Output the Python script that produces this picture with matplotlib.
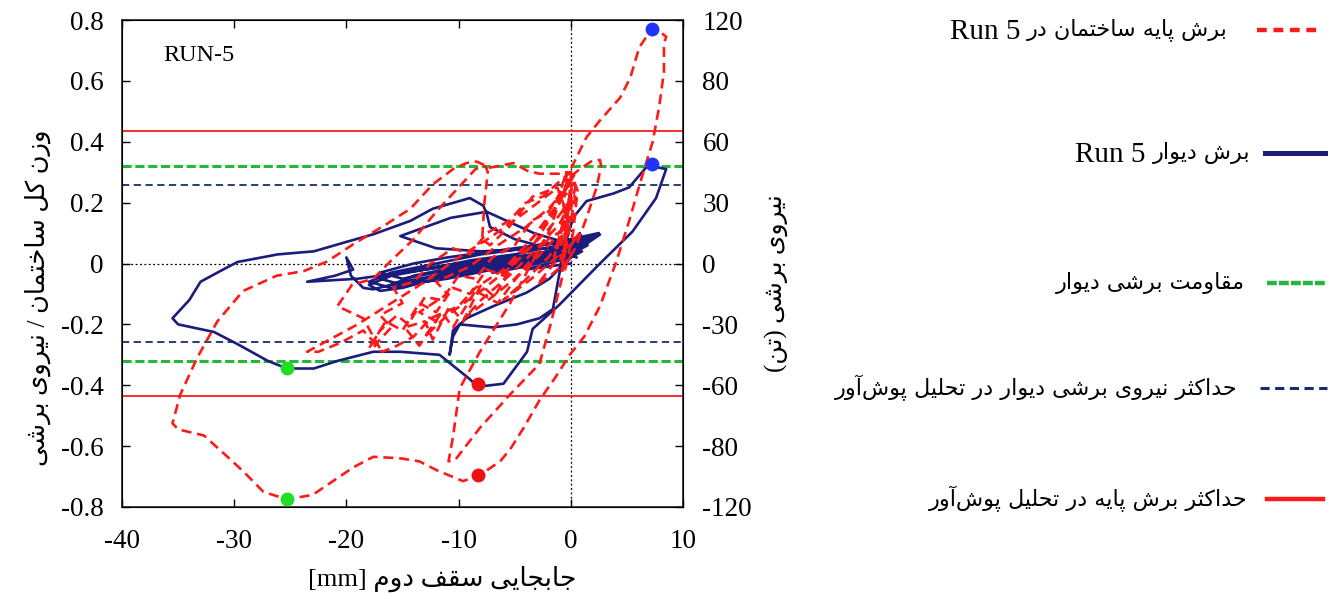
import matplotlib
matplotlib.use("Agg")
import matplotlib.pyplot as plt
from matplotlib.lines import Line2D

# ---------------- data ----------------
red_path = [
    (0.0, 0.02), (-1.5, -0.03), (-3.0, -0.07), (-1.5, 0.00), (0.0, 0.06), (0.8, 0.10), (-1.0, 0.03),
    (-3.5, -0.05), (-6.0, -0.12), (-4.5, -0.07), (-2.0, 0.02), (-0.5, 0.10), (0.5, 0.17), (-1.5, 0.08),
    (-4.0, -0.02), (-7.0, -0.11), (-9.5, -0.18), (-8.0, -0.12), (-5.5, -0.04), (-3.0, 0.05), (-1.0, 0.13),
    (0.2, 0.22), (-1.8, 0.12), (-5.0, 0.00), (-8.0, -0.09), (-11.0, -0.17), (-13.0, -0.24), (-12.0, -0.19),
    (-13.5, -0.16), (-11.0, -0.10), (-12.0, -0.06), (-9.0, -0.01), (-6.5, 0.06), (-4.0, 0.12), (-2.0, 0.18),
    (-0.5, 0.24), (0.3, 0.29),
    (-1.5, 0.18), (-3.5, 0.08), (-6.0, -0.02), (-8.5, -0.08), (-10.0, -0.14), (-12.5, -0.18), (-14.0, -0.24),
    (-15.5, -0.27), (-16.8, -0.29), (-17.5, -0.27), (-16.0, -0.21), (-17.0, -0.17), (-15.0, -0.13),
    (-15.8, -0.08), (-14.0, -0.06), (-12.5, 0.00), (-10.5, 0.05), (-9.0, 0.03), (-7.5, 0.10), (-5.5, 0.14),
    (-4.0, 0.20), (-2.5, 0.22), (-1.0, 0.27), (0.0, 0.30),
    (-1.0, 0.20), (-2.5, 0.12), (-4.5, 0.04), (-6.0, -0.04), (-7.5, -0.02), (-9.0, -0.10), (-10.5, -0.08),
    (-12.0, -0.16), (-13.5, -0.13), (-15.0, -0.22), (-16.5, -0.19), (-18.0, -0.28), (-17.0, -0.22),
    (-15.5, -0.17), (-14.5, -0.20), (-13.0, -0.11), (-11.5, -0.12), (-10.0, -0.04), (-8.5, -0.05),
    (-7.0, 0.02), (-5.0, 0.06), (-3.5, 0.14), (-2.0, 0.17), (-0.8, 0.24), (0.5, 0.27),
    (-0.3, 0.12), (-2.0, 0.08), (-4.5, -0.03), (-6.5, -0.13), (-8.5, -0.09), (-10.5, -0.21), (-11.5, -0.16),
    (-13.5, -0.27), (-14.8, -0.21), (-13.0, -0.19), (-12.3, -0.25), (-10.8, -0.14), (-9.6, -0.19),
    (-8.0, -0.07), (-6.8, -0.11), (-5.0, 0.01), (-3.2, 0.07), (-1.6, 0.16), (-0.4, 0.30), (-0.9, 0.05),
    (0.1, 0.26), (-0.6, 0.02), (0.4, 0.22),
    (-1.5, 0.24), (-4.0, 0.17), (-7.0, 0.09), (-10.0, 0.02), (-13.0, -0.06), (-16.0, -0.13), (-19.0, -0.20),
    (-21.5, -0.25), (-23.5, -0.29), (-22.5, -0.29), (-20.5, -0.26), (-18.5, -0.22), (-17.0, -0.28),
    (-18.5, -0.18), (-20.8, -0.14), (-19.5, -0.07), (-17.6, -0.05), (-16.0, 0.01), (-14.0, 0.08),
    (-12.0, 0.17), (-10.0, 0.25), (-8.5, 0.31), (-7.6, 0.32), (-7.4, 0.30), (-7.7, 0.20), (-7.9, 0.08),
    (-7.2, 0.06), (-5.5, 0.12), (-3.4, 0.22), (-1.2, 0.25), (-0.3, 0.16),
    (-0.8, -0.05), (-1.8, -0.20), (-2.8, -0.33), (-5.4, -0.43), (-8.1, -0.54), (-10.3, -0.645),
    (-10.9, -0.65), (-10.5, -0.57), (-9.9, -0.41), (-8.1, -0.29), (-5.4, -0.13), (-3.5, 0.00), (-2.0, 0.10),
    (-1.0, 0.20), (-0.2, 0.28), (0.8, 0.31), (2.0, 0.34), (2.6, 0.34), (2.7, 0.32), (2.3, 0.25), (1.4, 0.15),
    (0.4, 0.05), (-0.8, -0.02), (-0.5, 0.08),
    (-0.2, 0.18), (0.06, 0.315), (1.4, 0.415), (2.6, 0.47), (4.4, 0.545), (5.3, 0.61), (6.1, 0.71),
    (7.2, 0.77), (8.0, 0.76), (8.5, 0.745), (8.3, 0.72), (8.3, 0.63), (7.9, 0.52), (7.3, 0.40), (6.3, 0.28),
    (5.2, 0.14), (4.0, 0.00), (2.6, -0.14), (1.2, -0.24), (-0.1, -0.30), (-1.3, -0.37), (-2.8, -0.45),
    (-4.2, -0.54), (-5.4, -0.61), (-6.3, -0.65), (-8.1, -0.695), (-9.6, -0.715), (-11.9, -0.68),
    (-13.5, -0.65), (-15.2, -0.64), (-17.6, -0.635), (-19.4, -0.67), (-21.0, -0.71), (-23.0, -0.76),
    (-25.3, -0.775), (-27.4, -0.75), (-29.0, -0.69), (-30.3, -0.645), (-32.7, -0.565), (-35.0, -0.545),
    (-35.5, -0.525), (-34.8, -0.43), (-33.3, -0.31), (-31.5, -0.19), (-29.2, -0.09), (-26.2, -0.04),
    (-23.8, -0.025), (-21.7, 0.007), (-19.4, 0.063), (-16.4, 0.13), (-14.3, 0.18), (-12.3, 0.26),
    (-10.5, 0.31), (-9.3, 0.33), (-8.4, 0.335), (-7.2, 0.315), (-5.1, 0.33), (-3.9, 0.305), (-2.8, 0.295),
    (-1.0, 0.295), (0.0, 0.30), (0.6, 0.24), (0.2, 0.10), (-0.5, -0.02), (-1.2, 0.05), (-0.6, 0.14),
    (-0.1, 0.22), (-0.8, 0.12), (-1.5, 0.02),
]

navy_path = [
    (0.0, 0.00), (-2.0, -0.01), (-4.0, -0.02), (-2.0, 0.00), (0.0, 0.02), (1.0, 0.04), (-1.0, 0.02),
    (-4.0, -0.01), (-7.0, -0.03), (-5.0, -0.01), (-2.0, 0.01), (0.0, 0.03), (1.5, 0.06), (-1.0, 0.03),
    (-5.0, 0.00), (-9.0, -0.02), (-12.0, -0.05), (-10.0, -0.03), (-7.0, -0.01), (-4.0, 0.01), (-1.0, 0.04),
    (1.0, 0.07), (-2.0, 0.04), (-6.0, 0.01), (-10.0, -0.01), (-14.0, -0.04), (-16.0, -0.07), (-14.0, -0.06),
    (-11.0, -0.03), (-8.0, -0.01), (-5.0, 0.02), (-2.0, 0.04), (0.0, 0.06), (2.0, 0.09), (-1.0, 0.06),
    (-5.0, 0.03), (-9.0, 0.01), (-13.0, -0.02), (-16.0, -0.04), (-18.0, -0.07), (-17.0, -0.09),
    (-15.0, -0.08), (-12.0, -0.05), (-9.0, -0.03), (-6.0, 0.00), (-3.0, 0.02), (0.0, 0.05),
    (-2.0, 0.03), (-6.0, 0.02), (-10.0, 0.00), (-14.0, -0.02), (-17.0, -0.05), (-15.0, -0.07),
    (-11.0, -0.05), (-7.0, -0.02), (-3.0, 0.01), (0.0, 0.04), (1.5, 0.08), (-1.0, 0.07), (-4.0, 0.05),
    (-8.0, 0.03), (-12.0, 0.00), (-16.0, -0.03), (-18.0, -0.06), (-16.0, -0.08), (-13.0, -0.06),
    (-10.0, -0.04), (-6.0, -0.01), (-2.0, 0.02), (1.0, 0.06), (2.5, 0.10), (0.0, 0.08), (-3.0, 0.06),
    (-7.0, 0.04), (-11.0, 0.02), (-14.0, 0.00), (-17.0, -0.03), (-15.0, -0.05), (-12.0, -0.03),
    (-9.0, -0.01), (-5.0, 0.01), (-1.0, 0.03), (0.0, 0.05),
    (-1.0, -0.03), (-1.6, -0.15), (-2.8, -0.18), (-4.8, -0.20), (-7.0, -0.21), (-9.9, -0.20),
    (-10.5, -0.24), (-10.8, -0.30), (-10.5, -0.22), (-9.3, -0.18), (-6.9, -0.14), (-3.9, -0.095),
    (-1.9, -0.05), (-0.4, 0.007), (0.8, 0.10), (1.1, 0.07), (2.6, 0.095), (0.8, 0.05), (-1.0, -0.02),
    (-0.6, 0.05), (0.2, 0.15),
    (1.4, 0.205), (3.8, 0.23), (5.2, 0.25), (6.7, 0.315), (7.2, 0.32), (8.5, 0.31), (7.6, 0.215),
    (5.5, 0.105), (2.6, 0.00), (-1.0, -0.135), (-3.4, -0.215), (-3.9, -0.29), (-6.0, -0.395),
    (-8.3, -0.405), (-9.0, -0.38), (-11.7, -0.30), (-15.2, -0.29), (-17.6, -0.29), (-20.8, -0.32),
    (-22.9, -0.345), (-25.3, -0.345), (-27.0, -0.32), (-29.7, -0.265), (-31.8, -0.225), (-35.0, -0.20),
    (-35.5, -0.18), (-34.0, -0.12), (-33.0, -0.06), (-31.0, -0.02), (-29.7, 0.005), (-26.1, 0.03),
    (-22.9, 0.04), (-19.9, 0.072), (-17.6, 0.096), (-14.3, 0.14), (-12.3, 0.18), (-9.0, 0.215),
    (-7.8, 0.19), (-7.5, 0.165), (-7.2, 0.12),
    (-5.0, 0.08), (-3.0, 0.06), (-0.6, 0.07), (-3.3, 0.10), (-7.5, 0.17), (-10.7, 0.15), (-15.2, 0.09),
    (-12.0, 0.05), (-8.0, 0.04), (-5.0, 0.045), (-2.0, 0.05), (0.5, 0.06), (-3.0, 0.03), (-7.0, 0.01),
    (-11.0, -0.01), (-15.0, -0.03), (-19.0, -0.05), (-23.5, -0.06), (-21.0, -0.04), (-19.4, -0.02),
    (-20.0, 0.02), (-19.6, -0.04), (-18.5, -0.08), (-17.6, -0.085), (-15.0, -0.06), (-12.0, -0.04),
    (-9.0, -0.02), (-6.0, 0.0), (-3.0, 0.02), (-1.0, 0.04), (0.5, 0.02),
]

base_shear_pushover = 0.435     # red solid, +/-
wall_strength = 0.32            # green dashed, +/-
wall_shear_pushover = 0.258     # navy dashed, +/-

blue_pts = [(7.2, 0.769), (7.2, 0.327)]
green_pts = [(-25.3, -0.343), (-25.3, -0.774)]
red_pts = [(-8.3, -0.395), (-8.3, -0.694)]

x_ticks = [-40, -30, -20, -10, 0, 10]
y_ticks = [0.8, 0.6, 0.4, 0.2, 0.0, -0.2, -0.4, -0.6, -0.8]
y_tick_labels = ["0.8", "0.6", "0.4", "0.2", "0", "-0.2", "-0.4", "-0.6", "-0.8"]
right_tick_labels = ["120", "80", "60", "30", "0", "-30", "-60", "-80", "-120"]

legend_labels = [
    "برش پایه ساختمان در Run 5",
    "برش دیوار Run 5",
    "مقاومت برشی دیوار",
    "حداکثر نیروی برشی دیوار در تحلیل پوش\u200cآور",
    "حداکثر برش پایه در تحلیل پوش\u200cآور",
]
xlabel_text = "جابجایی سقف دوم [mm]"
ylabel_left = "وزن کل ساختمان / نیروی برشی"
ylabel_right = "نیروی برشی (تن)"
run_label = "RUN-5"

# ---------------- minimal Persian shaping ----------------
FORMS = {
    'ا': ('\uFE8D', '\uFE8E', None, None), 'آ': ('\uFE81', '\uFE82', None, None),
    'ب': ('\uFE8F', '\uFE90', '\uFE91', '\uFE92'), 'پ': ('\uFB56', '\uFB57', '\uFB58', '\uFB59'),
    'ت': ('\uFE95', '\uFE96', '\uFE97', '\uFE98'), 'ث': ('\uFE99', '\uFE9A', '\uFE9B', '\uFE9C'),
    'ج': ('\uFE9D', '\uFE9E', '\uFE9F', '\uFEA0'),
    'ح': ('\uFEA1', '\uFEA2', '\uFEA3', '\uFEA4'), 'خ': ('\uFEA5', '\uFEA6', '\uFEA7', '\uFEA8'),
    'د': ('\uFEA9', '\uFEAA', None, None), 'ر': ('\uFEAD', '\uFEAE', None, None),
    'ز': ('\uFEAF', '\uFEB0', None, None), 'س': ('\uFEB1', '\uFEB2', '\uFEB3', '\uFEB4'),
    'ش': ('\uFEB5', '\uFEB6', '\uFEB7', '\uFEB8'), 'ف': ('\uFED1', '\uFED2', '\uFED3', '\uFED4'),
    'ق': ('\uFED5', '\uFED6', '\uFED7', '\uFED8'), 'ک': ('\uFB8E', '\uFB8F', '\uFB90', '\uFB91'),
    'ل': ('\uFEDD', '\uFEDE', '\uFEDF', '\uFEE0'), 'م': ('\uFEE1', '\uFEE2', '\uFEE3', '\uFEE4'),
    'ن': ('\uFEE5', '\uFEE6', '\uFEE7', '\uFEE8'), 'ه': ('\uFEE9', '\uFEEA', '\uFEEB', '\uFEEC'),
    'و': ('\uFEED', '\uFEEE', None, None), 'ی': ('\uFBFC', '\uFBFD', '\uFBFE', '\uFBFF'),
}
MIRROR = {'(': ')', ')': '(', '[': ']', ']': '['}


def shape_word(w):
    out = []
    for i, c in enumerate(w):
        if c not in FORMS:
            if c != '\u200c':
                out.append(c)
            continue
        prev = w[i - 1] if i > 0 else None
        nxt = w[i + 1] if i + 1 < len(w) else None
        jp = prev in FORMS and FORMS[prev][2] is not None
        jn = FORMS[c][2] is not None and nxt in FORMS
        f = FORMS[c]
        out.append(f[3] if (jp and jn) else f[1] if jp else f[2] if jn else f[0])
    return out


def is_rtl(t):
    return any('\u0600' <= c <= '\u06FF' for c in t) or not any(c.isalnum() for c in t)


def runs_of(s):
    """Logical-order runs: list of (kind, visual_text); first run is rightmost."""
    runs = []
    for t in s.split(' '):
        if is_rtl(t):
            g = ''.join(MIRROR.get(c, c) for c in shape_word(t)[::-1])
            if runs and runs[-1][0] == 'r':
                runs[-1] = ('r', g + ' ' + runs[-1][1])
            else:
                runs.append(('r', g))
        else:
            if runs and runs[-1][0] == 'l':
                runs[-1] = ('l', runs[-1][1] + ' ' + t)
            else:
                runs.append(('l', t))
    return runs


def visual(s):
    return ' '.join(r[1] for r in runs_of(s)[::-1])


FAM = ['Liberation Serif', 'DejaVu Sans']
plt.rcParams['font.family'] = FAM

W, H = 1336, 599
fig = plt.figure(figsize=(W / 100, H / 100), dpi=100)
ax = fig.add_axes([122 / W, 1 - 507 / H, (683 - 122) / W, (507 - 20) / H])

red_c = '#ff1a1a'
navy_c = '#1c1c7c'
navyd_c = '#12306b'
green_c = '#22b83a'

ax.axhline(base_shear_pushover, color=red_c, lw=1.3, zorder=2)
ax.axhline(-base_shear_pushover, color=red_c, lw=1.3, zorder=2)
ax.axhline(wall_strength, color=green_c, lw=2.2, dashes=(3, 1.2), zorder=2)
ax.axhline(-wall_strength, color=green_c, lw=2.2, dashes=(3, 1.2), zorder=2)
ax.axhline(wall_shear_pushover, color=navyd_c, lw=1.3, dashes=(4, 2.5), zorder=2)
ax.axhline(-wall_shear_pushover, color=navyd_c, lw=1.3, dashes=(4, 2.5), zorder=2)
ax.axhline(0, color='black', lw=0.9, dashes=(1.5, 2), zorder=1)
ax.axvline(0, color='black', lw=0.9, dashes=(1.5, 2), zorder=1)

nx, ny = zip(*navy_path)
ax.plot(nx, ny, color=navy_c, lw=1.9, zorder=3, solid_joinstyle='round')
rx, ry = zip(*red_path)
ax.plot(rx, ry, color=red_c, lw=1.9, dashes=(3.8, 2.2), zorder=4)

for pts, col in ((blue_pts, '#2233ff'), (green_pts, '#22dd22'), (red_pts, '#ee1111')):
    px, py = zip(*pts)
    ax.plot(px, py, 'o', color=col, ms=10, zorder=6, mec='none')

ax.text(-36.3, 0.685, run_label, fontsize=17.5, family=FAM, va='center', ha='left')

ax.set_xlim(-40, 10)
ax.set_ylim(-0.8, 0.8)
ax.set_xticks(x_ticks)
ax.set_xticklabels([str(v) for v in x_ticks])
ax.set_yticks(y_ticks)
ax.set_yticklabels(y_tick_labels)
ax.tick_params(axis='y', direction='in', length=6, width=1, labelsize=19.5, right=False, pad=13)
ax.tick_params(axis='x', direction='in', length=6, width=1, labelsize=19.5, top=True, pad=16)
for sp in ax.spines.values():
    sp.set_linewidth(1.2)
    sp.set_color('#222222')

ax2 = ax.twinx()
ax2.set_ylim(-0.8, 0.8)
ax2.set_yticks(y_ticks)
ax2.set_yticklabels(right_tick_labels)
ax2.tick_params(direction='in', length=6, width=1, labelsize=19.5, pad=14)

fig.text(442 / W, 1 - 579 / H, visual(xlabel_text), fontsize=19, ha='center', va='center', family=FAM)
fig.text(38 / W, 1 - 298 / H, visual(ylabel_left), fontsize=18.5, rotation=90, ha='center', va='center', family=FAM)
fig.text(776 / W, 1 - 283 / H, visual(ylabel_right), fontsize=18, rotation=90, ha='center', va='center', family=FAM)

# ---------------- legend (manual) ----------------
leg_y = [30, 153, 283, 388, 499]
leg_text_right = [1228, 1250, 1245, 1237, 1247]
leg_line = [(1257, 1322), (1265, 1325), (1267, 1325), (1260, 1327), (1267, 1323)]
leg_styles = [
    dict(color=red_c, lw=3.2, dashes=(2.2, 1.5)),
    dict(color=navy_c, lw=3.6),
    dict(color=green_c, lw=3.2, dashes=(2.2, 0.5)),
    dict(color=navyd_c, lw=2.2, dashes=(3, 1.8)),
    dict(color=red_c, lw=3.2),
]
renderer = fig.canvas.get_renderer()
for lab, y, xr, (x0, x1), st in zip(legend_labels, leg_y, leg_text_right, leg_line, leg_styles):
    yf = 1 - y / H
    fig.add_artist(Line2D([x0 / W, x1 / W], [yf, yf], transform=fig.transFigure, **st))
    xcur = xr
    for kind, txt in runs_of(lab):
        if kind == 'r':
            t = fig.text(xcur / W, yf, txt, fontsize=16, ha='right', va='center', family='DejaVu Sans')
        else:
            t = fig.text(xcur / W, yf - 0.003, txt, fontsize=21, ha='right', va='center',
                         family='Liberation Serif')
        bb = t.get_window_extent(renderer)
        xcur = bb.x0 - 7

fig.savefig('out.png', dpi=100)
